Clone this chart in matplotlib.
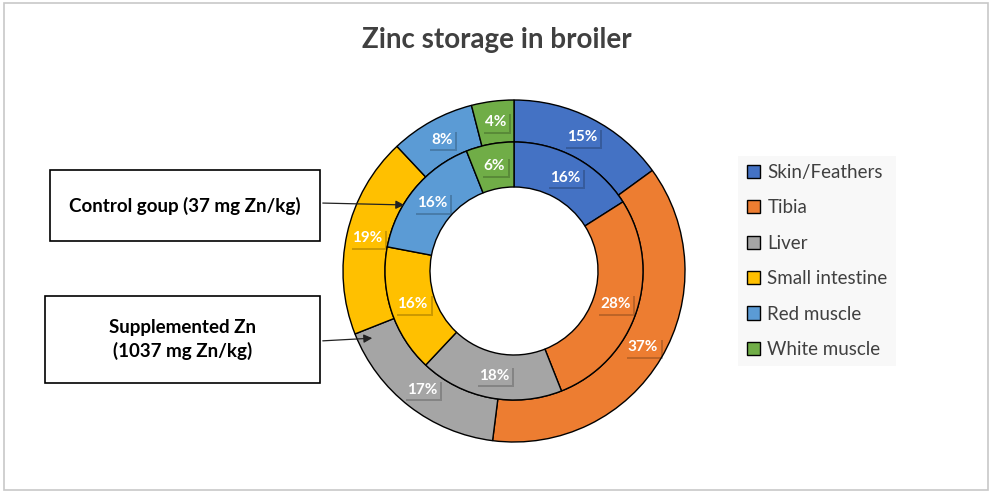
import matplotlib
matplotlib.use("Agg")
import matplotlib.pyplot as plt
from matplotlib.patches import Rectangle, Patch
import matplotlib.transforms as mtransforms

categories = ["Skin/Feathers", "Tibia", "Liver", "Small intestine", "Red muscle", "White muscle"]
supplemented = [15, 37, 17, 19, 8, 4]   # outer ring
control = [16, 28, 18, 16, 16, 6]       # inner ring
colors = ["#4472C4", "#ED7D31", "#A5A5A5", "#FFC000", "#5B9BD5", "#70AD47"]
title = "Zinc storage in broiler"
control_label = "Control goup (37 mg Zn/kg)"
supp_label = "Supplemented Zn\n(1037 mg Zn/kg)"

plt.rcParams['font.family'] = ['Lato', 'DejaVu Sans']

W, H = 992, 492
fig = plt.figure(figsize=(W / 100, H / 100), dpi=100)
fig.patches.append(Rectangle((0.004, 0.004), 0.992, 0.99, transform=fig.transFigure,
                             fill=False, edgecolor="#c8c8c8", linewidth=1.2))

cx, cy, R = 514, 271, 171
ax = fig.add_axes([(cx - R) / W, (H - cy - R) / H, 2 * R / W, 2 * R / H])
ax.set_aspect("equal")
ax.axis("off")

r_out, r_mid, r_in = 1.0, 129 / 171, 84 / 171
wedge_kw = dict(edgecolor="black", linewidth=1.0)

def fmt(v):
    return f"{v:.0f}%"

w1, t1, a1 = ax.pie(supplemented, radius=r_out, colors=colors, startangle=90, counterclock=False,
                    wedgeprops=dict(width=r_out - r_mid, **wedge_kw),
                    autopct=fmt, pctdistance=(r_out + r_mid) / 2 / r_out)
w2, t2, a2 = ax.pie(control, radius=r_mid, colors=colors, startangle=90, counterclock=False,
                    wedgeprops=dict(width=r_mid - r_in, **wedge_kw),
                    autopct=fmt, pctdistance=(r_mid + r_in) / 2 / r_mid)
ax.set_xlim(-1, 1)
ax.set_ylim(-1, 1)

labels = list(a1) + list(a2)
for t, c in zip(labels, colors * 2):
    t.set_color("white")
    t.set_fontweight("bold")
    t.set_fontsize(11)
    t.set_zorder(3)
    t.set_bbox(dict(boxstyle="square,pad=0.18", facecolor=c, edgecolor="none"))

# soft drop shadows behind the label boxes
fig.canvas.draw()
for t in labels:
    bb = t.get_bbox_patch().get_window_extent()
    ax.add_patch(Rectangle((bb.x0 + 2, bb.y0 - 2), bb.width, bb.height,
                           transform=mtransforms.IdentityTransform(),
                           facecolor="black", alpha=0.2, edgecolor="none", zorder=2.5))

fig.text(497 / W, 1 - 40 / H, title, ha="center", va="center", fontsize=20,
         fontweight="bold", color="#404040")

# annotation boxes
def box(x0, y0, x1, y1, text):
    fig.patches.append(Rectangle((x0 / W, 1 - y1 / H), (x1 - x0) / W, (y1 - y0) / H,
                                 transform=fig.transFigure, facecolor="white",
                                 edgecolor="black", linewidth=1.2))
    fig.text((x0 + x1) / 2 / W, 1 - (y0 + y1) / 2 / H, text, ha="center", va="center",
             fontsize=13.5, fontweight="bold", color="black", linespacing=1.4)

box(50, 170, 320, 241, control_label)
box(45, 296, 320, 383, supp_label)

def arrow(x0, y0, x1, y1):
    fig.add_artist(matplotlib.patches.FancyArrowPatch(
        (x0 / W, 1 - y0 / H), (x1 / W, 1 - y1 / H), transform=fig.transFigure,
        arrowstyle="-|>,head_length=5,head_width=2.5", color="#222222", linewidth=0.9))

arrow(320, 203, 407, 205)
arrow(320, 341, 375, 338)

handles = [Patch(facecolor=c, edgecolor="black", linewidth=1.0) for c in colors]
leg = fig.legend(handles, categories, loc="center left",
                 bbox_to_anchor=(729 / W, 1 - 261 / H), frameon=True,
                 fontsize=13.5, labelspacing=0.98, handlelength=0.7, handleheight=0.7,
                 handletextpad=0.4, borderpad=0.45, fancybox=False)
leg.get_frame().set_facecolor("#f7f7f7")
leg.get_frame().set_edgecolor("none")
for t in leg.get_texts():
    t.set_color("#404040")

fig.savefig("out.png", dpi=100)
